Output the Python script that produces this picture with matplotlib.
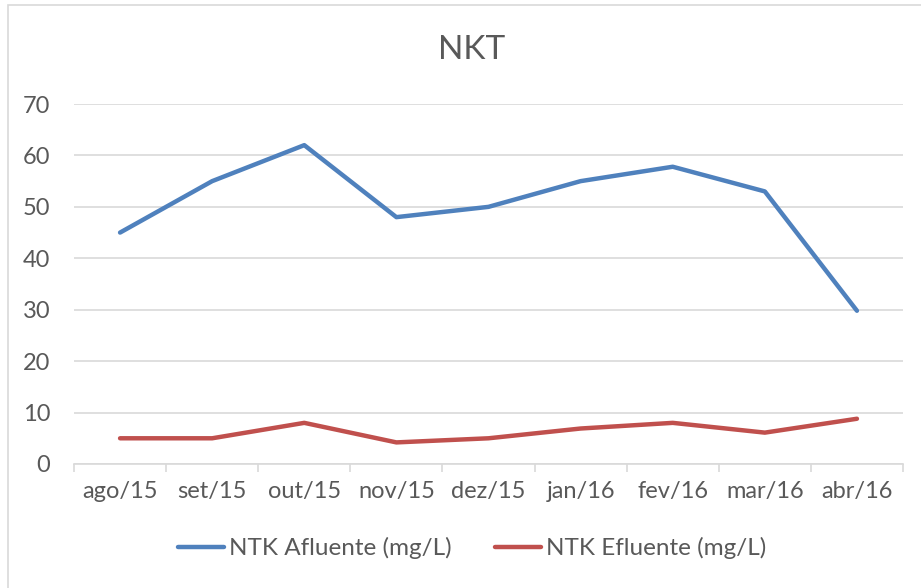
import matplotlib.pyplot as plt
from matplotlib.patches import Rectangle

# ==========================================
# DATA
# ==========================================

meses = ["ago/15", "set/15", "out/15", "nov/15", "dez/15",
         "jan/16", "fev/16", "mar/16", "abr/16"]
afluente = [45, 55, 62, 48, 50, 55, 57.8, 53, 29.8]
efluente = [5, 5, 8, 4.2, 5, 6.9, 8, 6.1, 8.8]

cinza = "#595959"
plt.rcParams["font.family"] = ["Lato", "DejaVu Sans"]

# ==========================================
# CHART
# ==========================================

fig = plt.figure(figsize=(9.21, 5.88), dpi=100)
fig.patches.append(Rectangle((8 / 921, -0.1), 1.2, 1.1 - 5 / 588,
                             transform=fig.transFigure, fill=False,
                             edgecolor="#D9D9D9", linewidth=1.2))

ax = fig.add_axes([74 / 921, 1 - 464 / 588, 829 / 921, 360 / 588])
x = list(range(len(meses)))

ax.plot(x, afluente, color="#4F81BD", linewidth=3.2,
        solid_capstyle="round", solid_joinstyle="round",
        label="NTK Afluente (mg/L)")
ax.plot(x, efluente, color="#C0504D", linewidth=3.2,
        solid_capstyle="round", solid_joinstyle="round",
        label="NTK Efluente (mg/L)")

ax.set_xlim(-0.5, len(meses) - 0.5)
ax.set_ylim(0, 70)
ax.set_yticks(range(0, 71, 10))
ax.yaxis.grid(True, color="#D9D9D9", linewidth=1.2)
ax.set_axisbelow(True)

ax.set_xticks(x)
ax.set_xticklabels(meses)
ax.set_xticks([i - 0.5 for i in range(len(meses) + 1)], minor=True)
ax.tick_params(axis="x", which="major", length=0, pad=12,
               labelsize=17, labelcolor=cinza)
ax.tick_params(axis="x", which="minor", length=6, width=1.2,
               color="#D9D9D9", direction="out")
ax.tick_params(axis="y", length=0, pad=17, labelsize=17, labelcolor=cinza)

for s in ["top", "right", "left"]:
    ax.spines[s].set_visible(False)
ax.spines["bottom"].set_color("#D9D9D9")
ax.spines["bottom"].set_linewidth(1.2)

fig.text(472 / 921, 1 - 50 / 588, "NKT", ha="center", va="center",
         fontsize=24, color=cinza)

fig.legend(loc="center", bbox_to_anchor=(472 / 921, 1 - 548 / 588),
           ncol=2, frameon=False, fontsize=17.5, labelcolor=cinza,
           handlelength=1.9, handletextpad=0.2, columnspacing=1.8)

plt.savefig("out.png", dpi=100)
plt.close()
